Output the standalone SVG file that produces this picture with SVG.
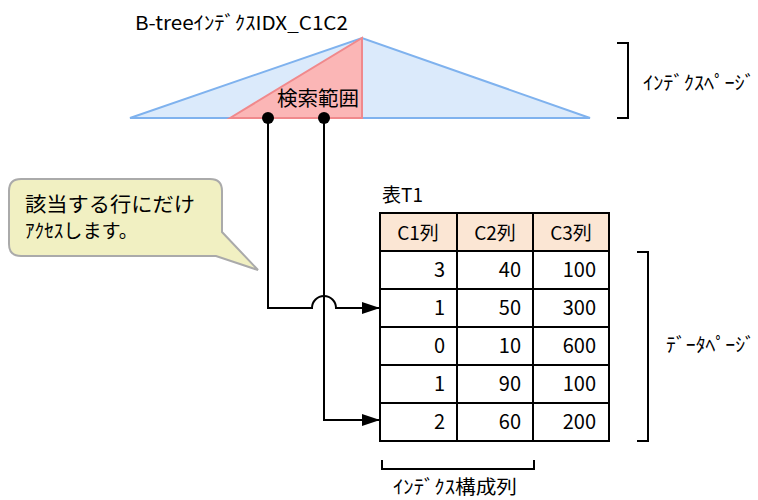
<svg xmlns="http://www.w3.org/2000/svg" width="758" height="500" viewBox="0 0 758 500">
<style>
text{font-family:"Noto Sans CJK JP","Liberation Sans",sans-serif;fill:#000}
.t{font-size:19px}
.c{font-size:19px;text-anchor:middle}
.n{font-size:20px;text-anchor:end}
.ln{fill:none;stroke:#000;stroke-width:2}
.cell{fill:#fff;stroke:#000;stroke-width:2}
.hd{fill:#fbe6d4;stroke:#000;stroke-width:2}
</style>
<defs>
<marker id="ah" markerWidth="18" markerHeight="12" refX="18" refY="6" orient="auto" markerUnits="userSpaceOnUse">
<path d="M0,0 L18,6 L0,12 Z" fill="#000"/>
</marker>
</defs>
<rect width="758" height="500" fill="#fff"/>
<g id="index">
<text class="t" x="135" y="30" textLength="213" lengthAdjust="spacingAndGlyphs">B-treeｲﾝﾃﾞｸｽIDX_C1C2</text>
<polygon points="130,118 362,38 590,118" fill="#dbeafb" stroke="#7fb2ee" stroke-width="2"/>
<polygon points="230,118 362,38 362,118" fill="#fbb6b6" stroke="#f0898c" stroke-width="2"/>
<text x="277" y="106" style="font-size:20px" textLength="82" lengthAdjust="spacingAndGlyphs">検索範囲</text>
</g>
<g id="index-page">
<path class="ln" d="M617,43 H628 V118 H617"/>
<text class="t" x="643" y="90" textLength="112" lengthAdjust="spacingAndGlyphs">ｲﾝﾃﾞｸｽﾍﾟｰｼﾞ</text>
</g>
<g id="callout">
<path d="M21,179 H210 Q222,179 222,191 V232 L258,270 L216,256 H21 Q9,256 9,244 V191 Q9,179 21,179 Z" fill="#f1f0c2" stroke="#aaa" stroke-width="2"/>
<text x="25" y="212" style="font-size:20px" textLength="170" lengthAdjust="spacingAndGlyphs">該当する行にだけ</text>
<text x="25" y="238" style="font-size:19px" textLength="113" lengthAdjust="spacingAndGlyphs">ｱｸｾｽします。</text>
</g>
<g id="table">
<text class="t" x="382" y="202">表T1</text>
<rect class="hd" x="380" y="213" width="77" height="38"/>
<rect class="hd" x="457" y="213" width="76" height="38"/>
<rect class="hd" x="533" y="213" width="76" height="38"/>
<text class="c" x="418" y="240">C1列</text>
<text class="c" x="495" y="240">C2列</text>
<text class="c" x="571" y="240">C3列</text>
<g>
<rect class="cell" x="380" y="251" width="77" height="38"/><rect class="cell" x="457" y="251" width="76" height="38"/><rect class="cell" x="533" y="251" width="76" height="38"/>
<rect class="cell" x="380" y="289" width="77" height="38"/><rect class="cell" x="457" y="289" width="76" height="38"/><rect class="cell" x="533" y="289" width="76" height="38"/>
<rect class="cell" x="380" y="327" width="77" height="38"/><rect class="cell" x="457" y="327" width="76" height="38"/><rect class="cell" x="533" y="327" width="76" height="38"/>
<rect class="cell" x="380" y="365" width="77" height="38"/><rect class="cell" x="457" y="365" width="76" height="38"/><rect class="cell" x="533" y="365" width="76" height="38"/>
<rect class="cell" x="380" y="403" width="77" height="38"/><rect class="cell" x="457" y="403" width="76" height="38"/><rect class="cell" x="533" y="403" width="76" height="38"/>
</g>
<text class="n" x="445" y="277">3</text><text class="n" x="521" y="277">40</text><text class="n" x="596" y="277">100</text>
<text class="n" x="445" y="315">1</text><text class="n" x="521" y="315">50</text><text class="n" x="596" y="315">300</text>
<text class="n" x="445" y="353">0</text><text class="n" x="521" y="353">10</text><text class="n" x="596" y="353">600</text>
<text class="n" x="445" y="391">1</text><text class="n" x="521" y="391">90</text><text class="n" x="596" y="391">100</text>
<text class="n" x="445" y="429">2</text><text class="n" x="521" y="429">60</text><text class="n" x="596" y="429">200</text>
</g>
<g id="data-page">
<path class="ln" d="M637,252 H648 V441 H637"/>
<text class="t" x="666" y="352" textLength="89" lengthAdjust="spacingAndGlyphs">ﾃﾞｰﾀﾍﾟｰｼﾞ</text>
</g>
<g id="index-columns">
<path class="ln" d="M382,460 V469 H534 V460"/>
<text class="t" x="393" y="494" textLength="124" lengthAdjust="spacingAndGlyphs">ｲﾝﾃﾞｸｽ構成列</text>
</g>
<g id="connectors">
<circle cx="268" cy="118" r="6" fill="#000"/>
<circle cx="324" cy="118" r="6" fill="#000"/>
<path class="ln" d="M268,118 V308 H312 A12,12 0 0 1 336,308 H380" marker-end="url(#ah)"/>
<path class="ln" d="M324,118 V420 H380" marker-end="url(#ah)"/>
</g>
</svg>
